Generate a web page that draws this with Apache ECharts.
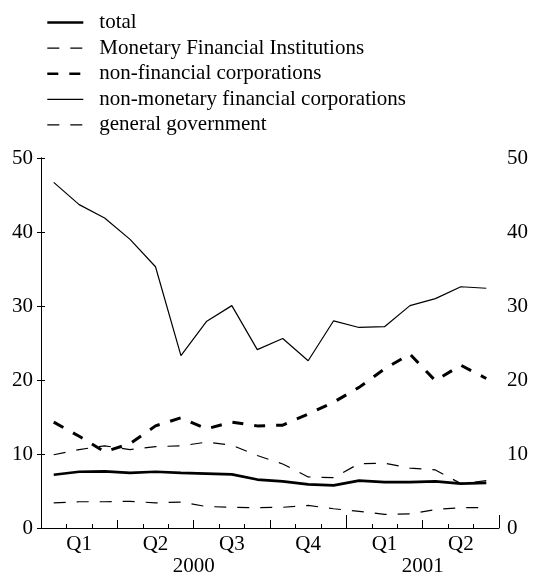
<!DOCTYPE html>
<html>
<head>
<meta charset="utf-8">
<script src="https://cdn.jsdelivr.net/npm/echarts@6/dist/echarts.min.js"></script>
<style>
  html, body { margin: 0; padding: 0; background: #fff; }
  #main { width: 538px; height: 577px; }
</style>
</head>
<body>
<div id="main"></div>
<script>
// monthly observations, Jan 2000 - Jun 2001
var months = ['2000-01', '2000-02', '2000-03', '2000-04', '2000-05', '2000-06',
  '2000-07', '2000-08', '2000-09', '2000-10', '2000-11', '2000-12',
  '2001-01', '2001-02', '2001-03', '2001-04', '2001-05', '2001-06'];
var quarterLabels = ['Q1', 'Q2', 'Q3', 'Q4', 'Q1', 'Q2'];
var yearLabels = ['2000', '2001'];

var total = [7.2, 7.6, 7.65, 7.45, 7.6, 7.45, 7.35, 7.25, 6.55, 6.3, 5.9, 5.75,
  6.4, 6.2, 6.2, 6.3, 6.0, 6.1];
var mfi = [9.9, 10.6, 11.1, 10.6, 11.0, 11.1, 11.6, 11.2, 9.8, 8.65, 6.9, 6.8,
  8.7, 8.75, 8.1, 7.85, 6.0, 6.4];
var nfc = [14.3, 12.4, 10.3, 11.4, 13.8, 14.9, 13.4, 14.3, 13.8, 13.9, 15.4, 17.0,
  19.0, 21.5, 23.5, 19.9, 22.0, 20.2];
var nmfc = [46.7, 43.7, 41.9, 39.0, 35.3, 23.3, 27.9, 30.05, 24.1, 25.6, 22.6, 28.0,
  27.1, 27.2, 30.05, 31.0, 32.6, 32.4];
var gov = [3.4, 3.55, 3.55, 3.6, 3.4, 3.5, 2.9, 2.8, 2.75, 2.8, 3.05, 2.6,
  2.25, 1.85, 1.9, 2.5, 2.75, 2.75];

var FONT = 'Liberation Serif';

// centre of each year's run of months, in month units
var yearCentre = {};
yearLabels.forEach(function (y) {
  var first = -1, last = -1;
  for (var i = 0; i < months.length; i++) {
    if (months[i].slice(0, 4) === y) {
      if (first < 0) first = i;
      last = i;
    }
  }
  yearCentre[(first + last + 1) / 2] = y;
});

var chart = echarts.init(document.getElementById('main'));

var styles = [
  { name: 'total', data: total, width: 2.7, legendWidth: 2.6, type: 'solid' },
  { name: 'Monetary Financial Institutions', data: mfi, width: 1.2, legendWidth: 1.2, type: [12, 11] },
  { name: 'non-financial corporations', data: nfc, width: 3, legendWidth: 2.6, type: [11, 11] },
  { name: 'non-monetary financial corporations', data: nmfc, width: 1.2, legendWidth: 1.2, type: 'solid' },
  { name: 'general government', data: gov, width: 1.2, legendWidth: 1.2, type: [12, 11] }
];

var yAxisBase = {
  type: 'value',
  min: 0,
  max: 50,
  interval: 10,
  axisLine: { show: true, lineStyle: { color: '#000', width: 1 } },
  axisTick: { show: true, inside: true, length: 4, lineStyle: { color: '#000' } },
  splitLine: { show: false },
  axisLabel: { color: '#000', fontFamily: FONT, fontSize: 21, margin: 8 }
};

var option = {
  backgroundColor: '#fff',
  animation: false,
  grid: { left: 41, right: 39, top: 158, bottom: 48 },
  legend: {
    orient: 'vertical',
    left: 41,
    top: 7,
    itemWidth: 36,
    itemHeight: 14,
    itemGap: 4.6,
    textStyle: { color: '#000', fontFamily: FONT, fontSize: 21, lineHeight: 21, padding: [0, 0, 0, 11] },
    data: styles.map(function (s) {
      return {
        name: s.name,
        itemStyle: { opacity: 0 },
        lineStyle: { color: '#000', width: s.legendWidth, type: s.type }
      };
    })
  },
  xAxis: [
    {
      // months: short ticks, quarter labels
      type: 'category',
      position: 'bottom',
      data: months,
      boundaryGap: true,
      axisLine: { show: true, lineStyle: { color: '#000', width: 1 } },
      axisTick: { show: true, inside: true, length: 4, interval: 0, lineStyle: { color: '#000' } },
      axisLabel: {
        color: '#000', fontFamily: FONT, fontSize: 21, margin: 6,
        interval: function (i) { return i % 3 === 1; },
        formatter: function (v, i) { return quarterLabels[Math.floor(i / 3)]; }
      },
      splitLine: { show: false }
    },
    {
      // quarter ticks + year labels
      type: 'value',
      position: 'bottom',
      min: 0,
      max: months.length,
      interval: 3,
      axisLine: { show: false },
      axisTick: { show: true, inside: true, length: 8, lineStyle: { color: '#000' } },
      axisLabel: {
        color: '#000', fontFamily: FONT, fontSize: 21, margin: 28,
        showMinLabel: false, showMaxLabel: false,
        formatter: function (v) { return yearCentre[v] || ''; }
      },
      splitLine: { show: false }
    },
    {
      // year ticks
      type: 'value',
      position: 'bottom',
      min: 0,
      max: months.length,
      interval: 12,
      axisLine: { show: false },
      axisTick: { show: true, inside: true, length: 13, lineStyle: { color: '#000' } },
      axisLabel: { show: false },
      splitLine: { show: false }
    }
  ],
  yAxis: [
    Object.assign({ position: 'left' }, yAxisBase),
    Object.assign({ position: 'right' }, yAxisBase)
  ],
  series: styles.map(function (s) {
    return {
      name: s.name,
      type: 'line',
      data: s.data,
      symbol: 'none',
      xAxisIndex: 0,
      lineStyle: { color: '#000', width: s.width, type: s.type, cap: 'butt' },
      itemStyle: { color: '#000' }
    };
  })
};

chart.setOption(option);
</script>
</body>
</html>
